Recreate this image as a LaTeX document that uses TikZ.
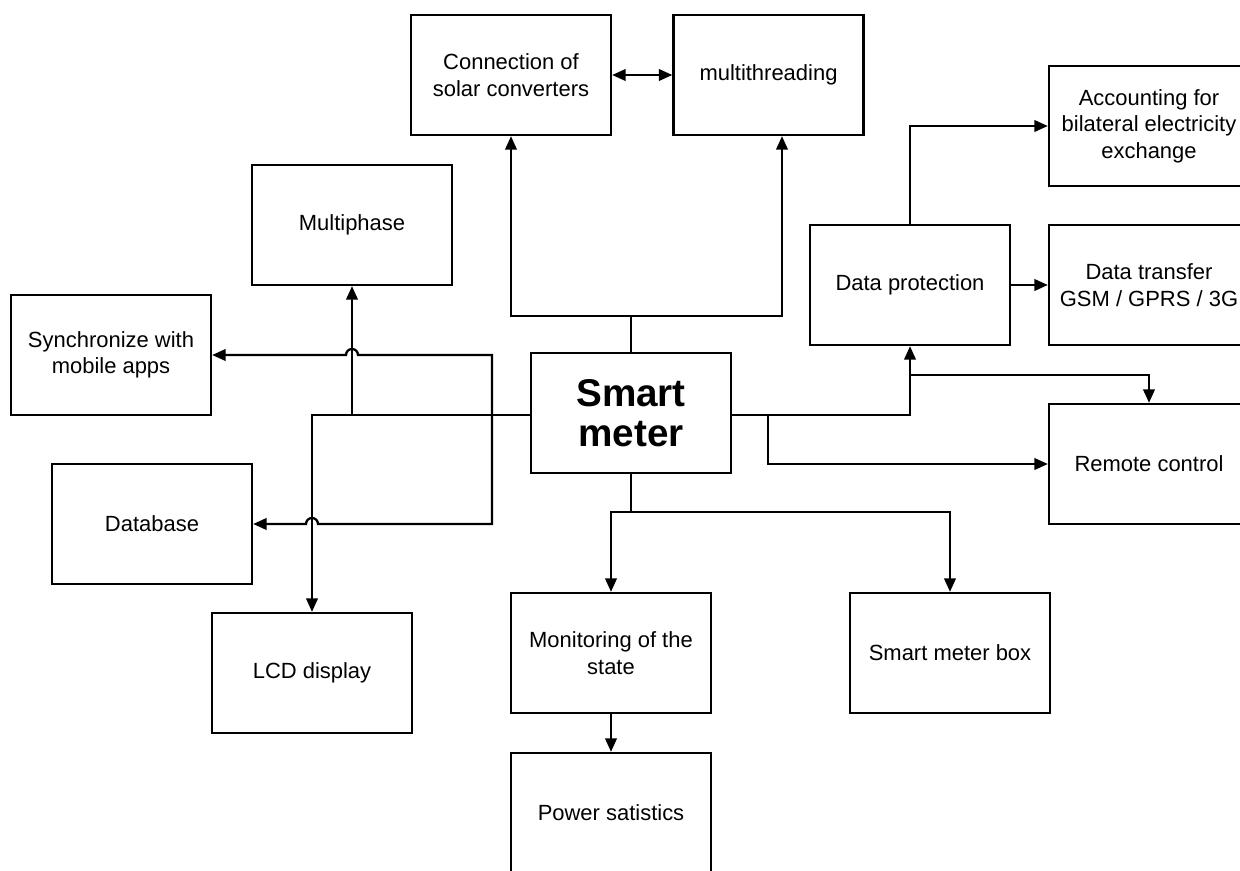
\documentclass[tikz,border=0pt]{standalone}
\usepackage{fontspec}
\setmainfont{Liberation Sans}
\usetikzlibrary{arrows.meta}
\begin{document}
\begin{tikzpicture}[x=0.2mm, y=0.2mm,
  box/.style={draw, line width=1.3pt, minimum width=4cm, minimum height=2.4cm,
    inner sep=0pt, align=center, font=\fontsize{12.5}{15}\selectfont},
  arr/.style={line width=1.3pt, -{Triangle[length=2.7mm, width=2.3mm]}},
  wire/.style={line width=1.3pt}]
\useasboundingbox (0,-870) rectangle (1240,0);
\clip (0,-870) rectangle (1240,0);
\node[box] (solar) at (511,-75) {Connection of\\solar converters};
\node[box, minimum width=3.8cm] (multi) at (768.5,-75) {multithreading};
\node[box] (acct) at (1149,-126) {Accounting for\\bilateral electricity\\exchange};
\node[box] (prot) at (910,-285) {Data protection};
\node[box] (xfer) at (1149,-285) {Data transfer\\GSM / GPRS / 3G};
\node[box] (phase) at (352,-225) {Multiphase};
\node[box] (sync) at (111,-355) {Synchronize with\\mobile apps};
\node[box, font=\fontsize{22}{23}\selectfont\bfseries] (meter) at (631,-413) {Smart\\meter};
\node[box] (remote) at (1149,-464) {Remote control};
\node[box] (db) at (152,-524) {Database};
\node[box] (lcd) at (312,-673) {LCD display};
\node[box] (mon) at (611,-653) {Monitoring of the\\state};
\node[box] (mbox) at (950,-653) {Smart meter box};
\node[box] (power) at (611,-813) {Power satistics};
\coordinate (jt) at (631,-316);
\coordinate (jl) at (492,-415);
\coordinate (jr) at (768,-415);
\coordinate (jp) at (910,-375);
\coordinate (jb) at (631,-512);
\draw[wire] (meter.north) -- (jt);
\draw[arr] (jt) -| (solar.south);
\draw[arr] (jt) -| ([xshift=2.7mm]multi.south);
\draw[line width=1.3pt, {Triangle[length=2.7mm, width=2.3mm]}-{Triangle[length=2.7mm, width=2.3mm]}] (solar.east) -- (multi.west);
\draw[arr] (meter.west |- jl) -| (lcd.north);
\draw[arr] (jl -| phase.south) -- (phase.south);
\draw[arr] (jl) -- (jl |- sync.east) -- ([xshift=1.2mm]phase.south |- sync.east)
  arc[start angle=0, end angle=180, radius=1.2mm] -- (sync.east);
\draw[arr] (jl) -- (jl |- db.east) -- ([xshift=1.2mm]lcd.north |- db.east)
  arc[start angle=0, end angle=180, radius=1.2mm] -- (db.east);
\draw[arr] (meter.east |- jr) -| (prot.south);
\draw[arr] (jp) -| (remote.north);
\draw[arr] (jr) |- (remote.west);
\draw[arr] (prot.north) |- (acct.west);
\draw[arr] (prot.east) -- (xfer.west);
\draw[wire] (meter.south) -- (jb);
\draw[arr] (jb) -| (mon.north);
\draw[arr] (jb) -| (mbox.north);
\draw[arr] (mon) -- (power);
\end{tikzpicture}
\end{document}
